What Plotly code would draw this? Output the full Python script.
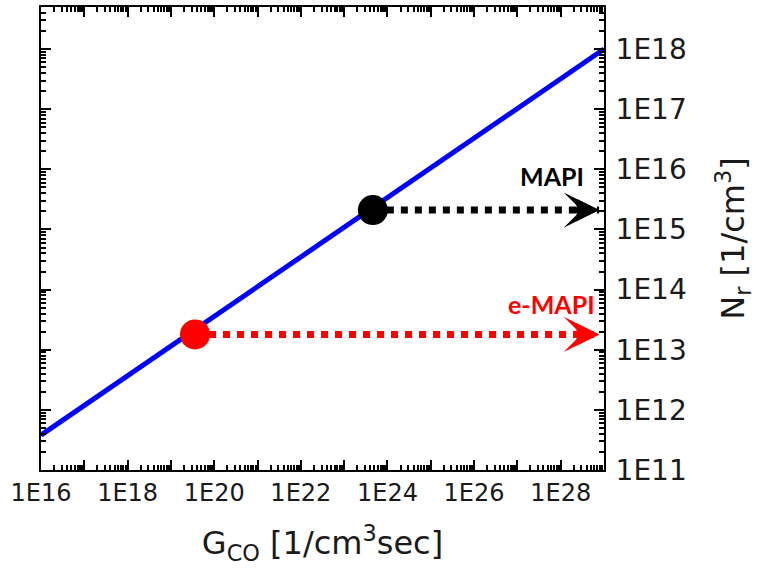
import numpy as np
import plotly.graph_objects as go

# Data
line_x = [1e16, 1e29]
line_y = [3.8e11, 1e18]
points_x = [4.6e23, 3.6e19]
points_y = [2.1e15, 1.8e13]
point_labels = ["MAPI", "e-MAPI"]
point_colors = ["black", "red"]
arrow_end_x = 7.7e28

x_tickvals = [10.0**k for k in range(16, 30)]
x_ticktext = [("1E%d" % k) if k % 2 == 0 else "" for k in range(16, 30)]
y_tickvals = [10.0**k for k in range(11, 19)]
y_ticktext = ["1E%d" % k for k in range(11, 19)]

x_minor = [m * 10.0**k for k in range(16, 29) for m in range(2, 10)]
y_minor = [m * 10.0**k for k in range(11, 19) for m in range(2, 10)]

label_xshift = [-13, -2]
label_yshift = [17, 13]

fig = go.Figure()

fig.add_trace(go.Scatter(x=line_x, y=line_y, mode="lines",
                         line=dict(color="#0000ff", width=5), showlegend=False))

for px, py, lab, col, xs, ys in zip(points_x, points_y, point_labels, point_colors,
                                    label_xshift, label_yshift):
    fig.add_trace(go.Scatter(x=[px, arrow_end_x], y=[py, py], mode="lines",
                             line=dict(color=col, width=7, dash="dot"), showlegend=False))
    fig.add_trace(go.Scatter(x=[px], y=[py], mode="markers",
                             marker=dict(color=col, size=30), showlegend=False))
    fig.add_annotation(x=np.log10(arrow_end_x), y=np.log10(py), xref="x", yref="y",
                       ax=-26, ay=0, axref="pixel", ayref="pixel", text="",
                       showarrow=True, arrowhead=3, arrowsize=1.18, arrowwidth=5,
                       arrowcolor=col)
    fig.add_annotation(x=np.log10(arrow_end_x), y=np.log10(py), xref="x", yref="y",
                       ax=-26, ay=0, axref="pixel", ayref="pixel", text="",
                       showarrow=True, arrowhead=2, arrowsize=0.9, arrowwidth=5,
                       arrowcolor=col)
    fig.add_annotation(x=np.log10(arrow_end_x), y=np.log10(py), xref="x", yref="y",
                       text="<b>%s</b>" % lab, showarrow=False, xanchor="right",
                       yanchor="bottom", xshift=xs, yshift=ys,
                       font=dict(family="Lato, Open Sans, Arial", size=25, color=col))

axis_common = dict(type="log", showline=True, linecolor="black", linewidth=2,
                   ticks="inside", ticklen=10, tickwidth=2, tickcolor="black",
                   mirror="allticks", showgrid=False, zeroline=False)

fig.update_xaxes(range=[16, 29], tickmode="array", tickvals=x_tickvals, ticktext=x_ticktext,
                 tickfont=dict(family="DejaVu Sans", size=24, color="#1a1a1a"),
                 minor=dict(tickmode="array", tickvals=x_minor, ticks="inside", ticklen=5,
                            tickwidth=1.5, tickcolor="black"),
                 title=dict(text="G<sub>CO</sub> [1/cm<sup>3</sup>sec]",
                            font=dict(family="DejaVu Sans", size=32, color="#1a1a1a"),
                            standoff=26),
                 **axis_common)
fig.update_yaxes(range=[11, 18.7], side="right", tickmode="array", tickvals=y_tickvals,
                 ticktext=y_ticktext, ticklabelstandoff=4,
                 tickfont=dict(family="DejaVu Sans", size=28, color="#1a1a1a"),
                 minor=dict(tickmode="array", tickvals=y_minor, ticks="inside", ticklen=5,
                            tickwidth=1.5, tickcolor="black"),
                 title=dict(text="N<sub>r</sub> [1/cm<sup>3</sup>]",
                            font=dict(family="DejaVu Sans", size=32, color="#1a1a1a"),
                            standoff=36),
                 **axis_common)

fig.update_layout(width=760, height=582, margin=dict(l=41, r=156, t=5, b=112),
                  plot_bgcolor="white", paper_bgcolor="white")

fig.write_html("out.html")
